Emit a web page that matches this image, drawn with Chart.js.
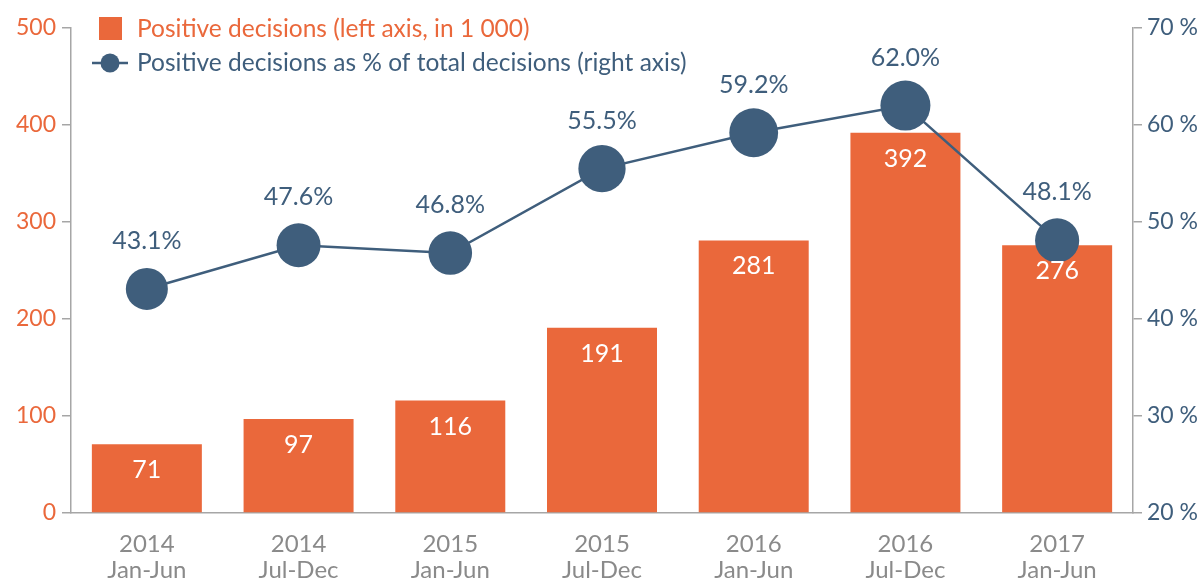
<!DOCTYPE html>
<html>
<head>
<meta charset="utf-8">
<script src="https://cdn.jsdelivr.net/npm/chart.js@4.4.0/dist/chart.umd.min.js"></script>
<style>
  html, body { margin: 0; padding: 0; background: #fff; }
  #wrap { width: 1203px; height: 581px; position: relative; }
</style>
</head>
<body>
<div id="wrap"><canvas id="grafico"></canvas></div>
<script>
const periodos = [["2014", "Jan-Jun"], ["2014", "Jul-Dec"], ["2015", "Jan-Jun"], ["2015", "Jul-Dec"], ["2016", "Jan-Jun"], ["2016", "Jul-Dec"], ["2017", "Jan-Jun"]];
const decisoesPositivas = [71, 97, 116, 191, 281, 392, 276];
const percentualPositivas = [43.1, 47.6, 46.8, 55.5, 59.2, 62.0, 48.1];
const legendaBarras = "Positive decisions (left axis, in 1 000)";
const legendaLinha = "Positive decisions as % of total decisions (right axis)";

const laranja = "#EA683B";
const azul = "#3F5E7C";
const cinza = "#A6A6A6";
const fonte = "Lato, 'Open Sans', sans-serif";

// rotulos dos valores (barras e pontos)
const rotulos = {
    id: "rotulos",
    afterDatasetsDraw(chart) {
        const ctx = chart.ctx;
        ctx.save();
        ctx.font = "25px " + fonte;
        ctx.textAlign = "center";
        ctx.textBaseline = "middle";

        const barras = chart.getDatasetMeta(0);
        barras.data.forEach((b, i) => {
            ctx.fillStyle = "#fff";
            ctx.fillText(decisoesPositivas[i], b.x, b.y + 26);
        });

        const linha = chart.getDatasetMeta(1);
        linha.data.forEach((p, i) => {
            ctx.fillStyle = azul;
            ctx.fillText(percentualPositivas[i].toFixed(1) + "%", p.x, p.y - 48);
        });
        ctx.restore();
    }
};

// legenda desenhada dentro da area do grafico
const legenda = {
    id: "legenda",
    afterDraw(chart) {
        const ctx = chart.ctx;
        ctx.save();
        ctx.font = "24.5px " + fonte;
        ctx.textBaseline = "middle";
        ctx.textAlign = "left";

        ctx.fillStyle = laranja;
        ctx.fillRect(99, 17, 23, 23);
        ctx.fillText(legendaBarras, 137, 29);

        ctx.strokeStyle = azul;
        ctx.lineWidth = 2.5;
        ctx.beginPath();
        ctx.moveTo(92, 63);
        ctx.lineTo(128, 63);
        ctx.stroke();
        ctx.fillStyle = azul;
        ctx.beginPath();
        ctx.arc(110, 63, 9.5, 0, Math.PI * 2);
        ctx.fill();
        ctx.fillText(legendaLinha, 137, 63);
        ctx.restore();
    }
};

const ctx = document.getElementById("grafico").getContext("2d");
const grafico = new Chart(ctx, {
    type: "bar",
    data: {
        labels: periodos,
        datasets: [{
            type: "bar",
            label: legendaBarras,
            data: decisoesPositivas,
            backgroundColor: laranja,
            yAxisID: "y",
            categoryPercentage: 1,
            barPercentage: 0.725,
            order: 1
        }, {
            type: "line",
            label: legendaLinha,
            data: percentualPositivas,
            borderColor: azul,
            borderWidth: 2.5,
            backgroundColor: azul,
            pointBackgroundColor: azul,
            pointBorderWidth: 0,
            // os marcadores crescem um pouco com o valor, como no original
            pointRadius: (c) => 21 + (c.raw - 43) / 19 * 4,
            pointHoverRadius: (c) => 21 + (c.raw - 43) / 19 * 4,
            yAxisID: "y1",
            order: 0
        }]
    },
    options: {
        responsive: true,
        maintainAspectRatio: false,
        animation: false,
        layout: { padding: { top: 28, bottom: 0, left: 0, right: 0 } },
        plugins: {
            legend: { display: false },
            tooltip: { enabled: false }
        },
        scales: {
            x: {
                grid: { display: false },
                border: { display: true, color: cinza, width: 1.5 },
                ticks: {
                    color: "#8A8A8A",
                    font: { family: fonte, size: 24, lineHeight: 1.1 },
                    padding: 10,
                    maxRotation: 0
                },
                afterFit: (s) => { s.height = 68; }
            },
            y: {
                position: "left",
                min: 0,
                max: 500,
                ticks: {
                    stepSize: 100,
                    color: laranja,
                    font: { family: fonte, size: 23 },
                    padding: 6
                },
                grid: { drawOnChartArea: false, color: cinza, tickLength: 9, lineWidth: 1.5 },
                border: { color: cinza, width: 1.5 },
                afterFit: (s) => { s.width = 71; }
            },
            y1: {
                position: "right",
                min: 20,
                max: 70,
                ticks: {
                    stepSize: 10,
                    color: azul,
                    font: { family: fonte, size: 23 },
                    padding: 5,
                    callback: (v) => v + " %"
                },
                grid: { drawOnChartArea: false, color: cinza, tickLength: 9, lineWidth: 1.5 },
                border: { color: cinza, width: 1.5 },
                afterFit: (s) => { s.width = 70; }
            }
        }
    },
    plugins: [rotulos, legenda]
});
</script>
</body>
</html>
